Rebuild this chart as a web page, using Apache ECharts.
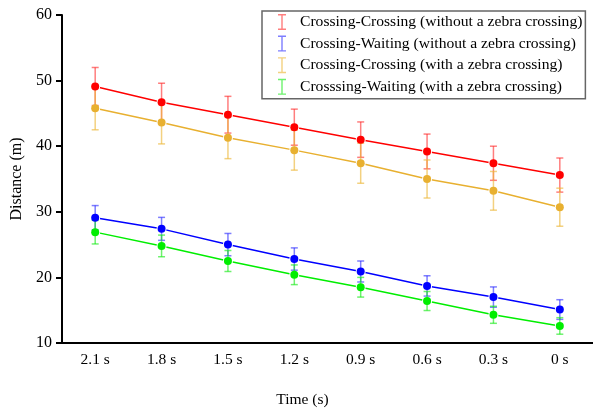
<!DOCTYPE html>
<html>
<head>
<meta charset="utf-8">
<script src="https://cdn.jsdelivr.net/npm/echarts@6/dist/echarts.min.js"></script>
<style>html,body{margin:0;padding:0;background:#fff}#c{width:593px;height:413px}</style>
</head>
<body>
<div id="c"></div>
<script>
const categories = ['2.1 s', '1.8 s', '1.5 s', '1.2 s', '0.9 s', '0.6 s', '0.3 s', '0 s'];
const seriesNames = [
  'Crossing-Crossing (without a zebra crossing)',
  'Crossing-Waiting (without a zebra crossing)',
  'Crossing-Crossing (with a zebra crossing)',
  'Crosssing-Waiting (with a zebra crossing)'
];
const ccWithout = [49.1, 46.7, 44.8, 42.9, 41.0, 39.2, 37.4, 35.6];
const ccWithoutErr = [2.9, 2.9, 2.8, 2.75, 2.7, 2.65, 2.6, 2.6];
const cwWithout = [29.1, 27.4, 25.0, 22.8, 20.9, 18.7, 17.0, 15.1];
const cwWithoutErr = [1.85, 1.75, 1.7, 1.7, 1.6, 1.55, 1.55, 1.5];
const ccWith = [45.8, 43.6, 41.3, 39.4, 37.4, 35.0, 33.2, 30.7];
const ccWithErr = [3.3, 3.25, 3.2, 3.05, 3.05, 2.9, 2.95, 2.9];
const cwWith = [26.9, 24.8, 22.5, 20.4, 18.5, 16.4, 14.3, 12.6];
const cwWithErr = [1.8, 1.65, 1.6, 1.5, 1.5, 1.45, 1.3, 1.26];
const yTicks = [10, 20, 30, 40, 50, 60];

const means = [ccWithout, cwWithout, ccWith, cwWith];
const errs = [ccWithoutErr, cwWithoutErr, ccWithErr, cwWithErr];
const lineColors = ['#ff0000', '#0000ff', '#e8b030', '#00ee00'];
const errColors = ['rgba(255,40,40,0.6)', 'rgba(40,40,255,0.6)', 'rgba(236,184,60,0.65)', 'rgba(30,235,30,0.65)'];
const FONT = 'Liberation Serif';

const iconPath = 'path://M0,0h8v1.4h-3.3v13.2h3.3v1.4h-8v-1.4h3.3v-13.2h-3.3z';

const series = [];
means.forEach((m, i) => {
  series.push({
    name: 'line' + i,
    type: 'line',
    data: m,
    z: 2,
    symbol: 'circle',
    symbolSize: 8,
    lineStyle: { color: lineColors[i], width: 1.5 },
    itemStyle: { color: lineColors[i], borderColor: '#fff', borderWidth: 2 },
    emphasis: { disabled: true },
    silent: true
  });
});
means.forEach((m, i) => {
  const color = errColors[i];
  series.push({
    name: seriesNames[i],
    type: 'custom',
    z: 3,
    itemStyle: { color: color },
    data: m.map((v, k) => [k, v - errs[i][k], v + errs[i][k]]),
    renderItem: function (params, api) {
      const x = api.value(0);
      const lo = api.coord([x, api.value(1)]);
      const hi = api.coord([x, api.value(2)]);
      const w = 3.5;
      const st = { stroke: color, lineWidth: 1.5 };
      return {
        type: 'group',
        children: [
          { type: 'line', shape: { x1: hi[0], y1: hi[1], x2: lo[0], y2: lo[1] }, style: st },
          { type: 'line', shape: { x1: hi[0] - w, y1: hi[1], x2: hi[0] + w, y2: hi[1] }, style: st },
          { type: 'line', shape: { x1: lo[0] - w, y1: lo[1], x2: lo[0] + w, y2: lo[1] }, style: st }
        ]
      };
    }
  });
});
means.forEach((m, i) => {
  series.push({
    name: 'pt' + i,
    type: 'scatter',
    data: m,
    z: 4,
    symbol: 'circle',
    symbolSize: 8,
    itemStyle: { color: lineColors[i], opacity: 1 },
    silent: true
  });
});

const chart = echarts.init(document.getElementById('c'), null, { renderer: 'canvas' });
chart.setOption({
  animation: false,
  backgroundColor: '#fff',
  grid: { left: 62, width: 537, top: 15, bottom: 66 },
  legend: {
    data: seriesNames.map((n, i) => ({ name: n, icon: iconPath, itemStyle: { color: errColors[i] } })),
    orient: 'vertical',
    left: 262,
    top: 11,
    padding: [3, 3, 4, 16],
    borderColor: '#666',
    borderWidth: 1.5,
    itemWidth: 26,
    itemHeight: 16,
    itemGap: 5.6,
    symbolKeepAspect: true,
    selectedMode: false,
    textStyle: { fontFamily: FONT, fontSize: 15.6, color: '#000', lineHeight: 16 }
  },
  xAxis: {
    type: 'category',
    data: categories,
    boundaryGap: true,
    name: 'Time (s)',
    nameLocation: 'middle',
    nameGap: 49,
    nameTextStyle: { fontFamily: FONT, fontSize: 15.5, color: '#000', padding: [0, 50, 0, 0] },
    axisLine: { lineStyle: { color: '#000', width: 2 } },
    axisTick: { alignWithLabel: true, length: 6, lineStyle: { color: '#000', width: 2 } },
    axisLabel: { fontFamily: FONT, fontSize: 15.5, color: '#000', margin: 9 },
    splitLine: { show: false }
  },
  yAxis: {
    type: 'value',
    min: yTicks[0],
    max: yTicks[yTicks.length - 1],
    interval: 10,
    name: 'Distance (m)',
    nameLocation: 'middle',
    nameGap: 34,
    nameTextStyle: { fontFamily: FONT, fontSize: 16, color: '#000' },
    axisLine: { show: true, lineStyle: { color: '#000', width: 2 } },
    axisTick: { show: true, length: 6, lineStyle: { color: '#000', width: 2 } },
    axisLabel: { fontFamily: FONT, fontSize: 16, color: '#000', margin: 10 },
    splitLine: { show: false }
  },
  series: series
});
</script>
</body>
</html>
